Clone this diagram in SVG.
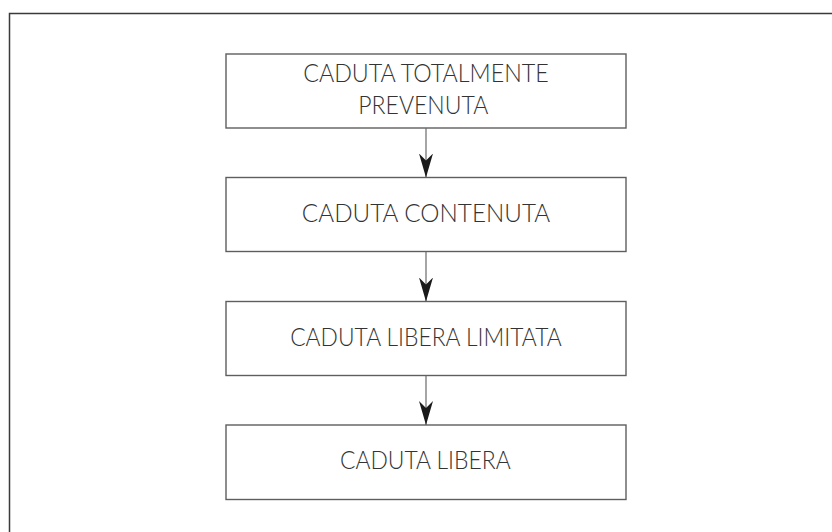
<svg xmlns="http://www.w3.org/2000/svg" width="832" height="532" viewBox="0 0 832 532">
  <defs>
    <style>
      .box { fill: #ffffff; stroke: #5e5e5e; stroke-width: 1.4; }
      .lbl { font-family: Lato, "Liberation Sans", sans-serif; font-weight: 300; font-size: 25px; fill: #333333; text-anchor: middle; }
      .conn { stroke: #6a6a6a; stroke-width: 1.2; fill: none; marker-end: url(#head); }
      .frame { fill: none; stroke: #3a3a3a; stroke-width: 1.5; }
    </style>
    <marker id="head" viewBox="0 0 24 14" refX="24" refY="7" markerWidth="24" markerHeight="14" markerUnits="userSpaceOnUse" orient="auto">
      <path d="M0,0 L24,7 L0,14 L7,7 Z" fill="#1a1a1a"/>
    </marker>
  </defs>
  <rect width="832" height="532" fill="#ffffff"/>
  <path class="frame" d="M9.5,532 V13.5 H832"/>

  <g id="node-prevenuta">
    <rect class="box" x="226" y="54" width="400" height="74"/>
    <text class="lbl" x="426" y="82.3" textLength="245.7" lengthAdjust="spacingAndGlyphs">CADUTA TOTALMENTE</text>
    <text class="lbl" x="423.3" y="114" textLength="130" lengthAdjust="spacingAndGlyphs">PREVENUTA</text>
  </g>
  <g id="node-contenuta">
    <rect class="box" x="226" y="177.5" width="400" height="74"/>
    <text class="lbl" x="426" y="222.3" textLength="248.3" lengthAdjust="spacingAndGlyphs">CADUTA CONTENUTA</text>
  </g>
  <g id="node-libera-limitata">
    <rect class="box" x="226" y="301.5" width="400" height="74"/>
    <text class="lbl" x="426" y="346" textLength="271.7" lengthAdjust="spacingAndGlyphs">CADUTA LIBERA LIMITATA</text>
  </g>
  <g id="node-libera">
    <rect class="box" x="226" y="425" width="400" height="74.5"/>
    <text class="lbl" x="425.3" y="469" textLength="170.7" lengthAdjust="spacingAndGlyphs">CADUTA LIBERA</text>
  </g>

  <g id="connectors">
    <line class="conn" x1="426" y1="128" x2="426" y2="177.5"/>
    <line class="conn" x1="426" y1="251.5" x2="426" y2="301.5"/>
    <line class="conn" x1="426" y1="375.5" x2="426" y2="425"/>
  </g>
</svg>
